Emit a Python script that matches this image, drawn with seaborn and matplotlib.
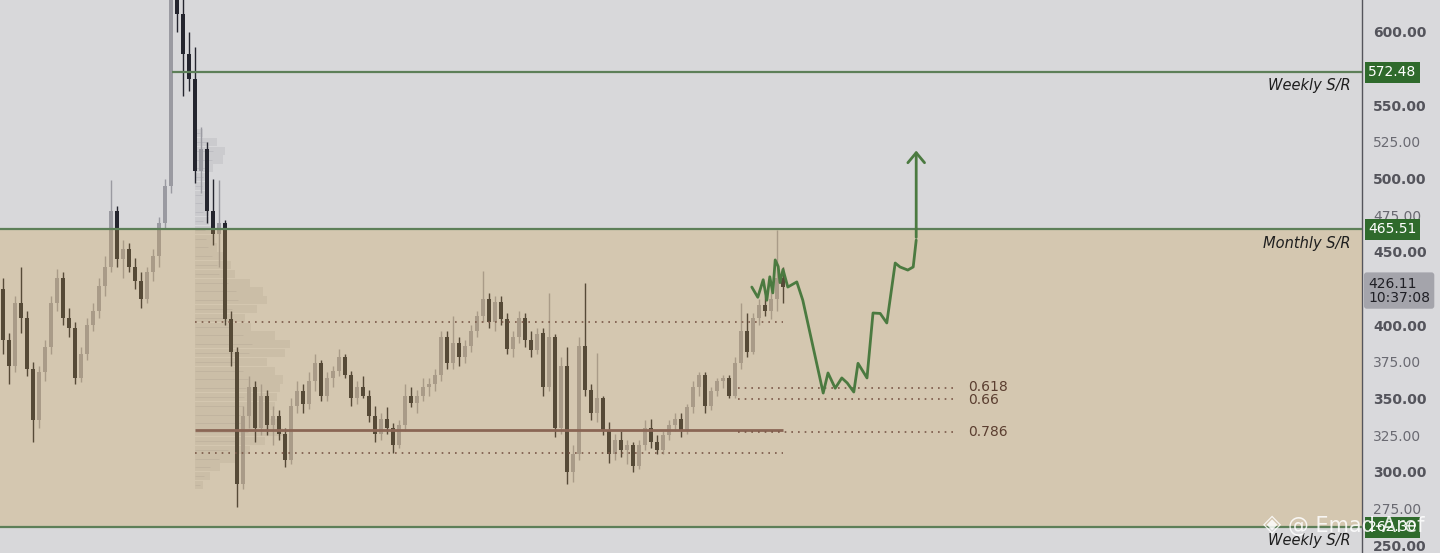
import numpy as np
import pandas as pd
import seaborn as sns
import matplotlib.pyplot as plt
import matplotlib.transforms as mtransforms

sns.set_theme(style="white")
plt.rcParams['font.family'] = ['DejaVu Sans']

# --- candles (one per bar) ---
opens = [425, 390, 372, 415, 405, 370, 335, 368, 385, 415, 432, 405, 398, 364, 380, 400, 410, 427, 440, 478,
         445, 452, 440, 430, 418, 436, 447, 470, 495, 622, 612, 585, 568, 505, 520, 478, 462, 470, 404, 382,
         292, 338, 358, 330, 352, 332, 338, 326, 308, 345, 355, 346, 362, 374, 352, 364, 369, 378, 366, 350,
         358, 352, 338, 326, 336, 330, 318, 332, 352, 347, 352, 358, 360, 366, 392, 374, 388, 378, 386, 396,
         406, 418, 402, 416, 404, 384, 392, 405, 390, 383, 395, 358, 392, 330, 372, 300, 312, 386, 356, 340,
         350, 328, 312, 322, 315, 318, 304, 318, 330, 320, 315, 325, 332, 336, 328, 344, 358, 366, 345, 355,
         362, 364, 352, 374, 396, 382, 405, 414, 410, 418, 432]
highs = [432, 395, 420, 440, 410, 375, 372, 390, 420, 438, 436, 412, 402, 385, 405, 415, 432, 447, 499, 481,
         458, 456, 446, 436, 440, 452, 474, 500, 630, 640, 625, 600, 590, 535, 525, 500, 499, 472, 410, 385,
         345, 365, 362, 360, 356, 345, 342, 330, 350, 362, 360, 368, 380, 376, 368, 372, 384, 380, 369, 362,
         365, 356, 345, 340, 344, 333, 335, 360, 358, 356, 364, 364, 370, 396, 396, 406, 392, 390, 400, 410,
         437, 422, 420, 420, 408, 396, 410, 408, 396, 398, 398, 422, 394, 378, 385, 318, 392, 429, 360, 381,
         352, 334, 326, 328, 322, 320, 322, 335, 336, 325, 328, 335, 340, 340, 346, 362, 368, 368, 358, 364,
         366, 366, 378, 415, 408, 408, 418, 420, 425, 465, 440]
lows = [380, 360, 368, 395, 365, 320, 330, 362, 380, 410, 400, 392, 360, 361, 376, 396, 405, 420, 436, 440,
        432, 436, 425, 412, 415, 430, 440, 466, 490, 600, 556, 560, 497, 490, 470, 455, 440, 400, 372, 276,
        288, 330, 320, 325, 325, 318, 322, 303, 305, 340, 340, 343, 355, 348, 348, 358, 365, 364, 345, 346,
        350, 334, 320, 322, 326, 313, 316, 328, 344, 340, 348, 352, 355, 362, 370, 370, 372, 374, 382, 392,
        402, 398, 396, 400, 380, 378, 388, 385, 378, 380, 352, 355, 324, 326, 292, 293, 308, 352, 335, 334,
        325, 306, 308, 310, 305, 300, 302, 315, 316, 312, 312, 322, 328, 324, 326, 340, 352, 340, 342, 352,
        357, 350, 350, 370, 378, 380, 400, 406, 404, 410, 415]
closes = [390, 372, 415, 405, 370, 335, 368, 385, 415, 432, 405, 398, 364, 380, 400, 410, 427, 440, 478, 445,
          452, 440, 430, 418, 436, 447, 470, 495, 622, 612, 585, 568, 505, 520, 478, 462, 470, 404, 382, 292,
          338, 358, 330, 352, 332, 338, 326, 308, 345, 355, 346, 362, 374, 352, 364, 369, 378, 366, 350, 358,
          352, 338, 326, 336, 330, 318, 332, 352, 347, 352, 358, 360, 366, 392, 374, 388, 378, 386, 396, 406,
          418, 402, 416, 404, 384, 392, 405, 390, 383, 394, 358, 392, 330, 372, 300, 312, 386, 356, 340, 350,
          328, 312, 322, 315, 318, 304, 318, 330, 320, 315, 325, 332, 336, 328, 344, 358, 366, 345, 355, 362,
          364, 352, 374, 396, 382, 405, 414, 410, 418, 432, 426.11]

# --- volume profile ---
vp_price = [531, 525, 519, 513, 507, 501, 495, 489, 483, 477, 471, 465, 459, 453, 447, 441, 435, 429, 423, 417,
            411, 405, 399, 393, 387, 381, 375, 369, 363, 357, 351, 345, 339, 333, 327, 321, 315, 309, 303, 297, 291]
vp_volume = [8, 22, 30, 28, 18, 14, 12, 12, 12, 14, 14, 16, 18, 22, 28, 36, 40, 55, 68, 72,
             62, 50, 56, 80, 95, 90, 72, 80, 88, 85, 82, 80, 75, 82, 88, 70, 55, 40, 25, 15, 8]

# --- projected path (bar index, price) ---
path_x = [124.8, 125.8, 126.7, 127.3, 127.8, 128.3, 128.7, 129.2, 129.5, 130.0, 130.8, 132.3, 133.3,
          136.7, 137.5, 138.7, 139.8, 140.7, 141.8, 142.5, 144.0, 145.0, 146.2, 147.3, 148.7, 149.5,
          150.8, 151.7, 152.2]
path_y = [426, 419, 431, 417, 433, 422, 444.5, 440, 429, 438, 426, 429.5, 417,
          353.7, 367.4, 357, 364, 360.6, 354.4, 374, 364, 408.3, 408, 401.5, 442.4, 439.7,
          437.6, 439.7, 458]
arrow_top = 521

weekly_top = 572.48
monthly = 465.51
weekly_bottom = 262.30
last_price = 426.11
last_time = "10:37:08"
va_high = 402.2
va_low = 312.8
poc = 328.5
fib_labels = ["0.618", "0.66", "0.786"]
fib_prices = [357.2, 349.7, 327.2]
yticks = [250, 275, 300, 325, 350, 375, 400, 450, 475, 500, 525, 550, 600]

fig = plt.figure(figsize=(14.4, 5.53), dpi=100)
fig.patch.set_facecolor('#d9d9dc')
ax = fig.add_axes([0, 0, 1362 / 1440, 1])
ax.set_facecolor('#d8d8da')
ax.set_xlim(-0.5, 226.5)
ax.set_ylim(244.6, 621.8)

df = pd.DataFrame({'o': opens, 'h': highs, 'l': lows, 'c': closes})
df['i'] = np.arange(len(df))
up = df['c'] >= df['o']
up_col, dn_col = '#9a9aa1', '#24252e'
cols = np.where(up, up_col, dn_col)
ax.vlines(df['i'], df['l'], df['h'], colors=cols, lw=1.0, zorder=2)
ax.bar(df['i'], (df['c'] - df['o']).abs().clip(lower=0.8), bottom=df[['o', 'c']].min(axis=1),
       width=0.62, color=cols, linewidth=0, zorder=2)

# volume profile
ax.barh(vp_price, np.array(vp_volume) / 6.0, left=32.0, height=5.6, color='#b4b4ba', alpha=0.35,
        edgecolor='none', zorder=1.5)
ax.hlines(vp_price, 32.0, 32.0 + np.array(vp_volume) / 6.0 * 0.6, color='#9c9ca4', lw=0.4,
          alpha=0.5, zorder=1.6)

# tan zone overlay
ax.axhspan(weekly_bottom, monthly, color=(204 / 255, 160 / 255, 79 / 255), alpha=0.3, lw=0, zorder=3)

# support / resistance lines
green = '#5d7f58'
ax.hlines(weekly_top, 28.2, 226.5, color=green, lw=1.6, zorder=4)
ax.axhline(monthly, color=green, lw=1.6, zorder=4)
ax.axhline(weekly_bottom, color=green, lw=1.6, zorder=4)

brown = '#7a5848'
ax.hlines([va_high, va_low], 32, 130, color=brown, lw=1.2, linestyles=(0, (1, 3)), zorder=4)
ax.hlines(poc, 32, 130, color='#8a6655', lw=2.0, zorder=4)
ax.hlines(fib_prices, 122.5, 159.2, color=brown, lw=1.2, linestyles=(0, (1, 3)), zorder=4)
for lab, p, dy in zip(fib_labels, fib_prices, [0.6, -0.6, 0]):
    ax.text(160.8, p + dy, lab, color='#5b3e30', fontsize=10, va='center', ha='left', zorder=5)

# projected path
path = pd.DataFrame({'x': path_x, 'y': path_y})
sns.lineplot(data=path, x='x', y='y', sort=False, color='#4b7a40', lw=2.0, ax=ax, zorder=6)
ax.annotate('', xy=(path_x[-1], arrow_top), xytext=(path_x[-1], path_y[-1]),
            arrowprops=dict(arrowstyle='->,head_length=0.6,head_width=0.5', color='#4b7a40', lw=2.0),
            zorder=6)
ax.set_xlabel('')
ax.set_ylabel('')

# labels on chart
for txt, y in [('Weekly S/R', 563.3), ('Monthly S/R', 456.0), ('Weekly S/R', 252.8)]:
    ax.text(224.6, y, txt, style='italic', fontsize=10.5, color='#1e1e1e', ha='right', va='center', zorder=7)

# right price axis
ax.yaxis.tick_right()
ax.set_yticks(yticks)
ax.set_yticklabels([f'{t:.2f}' for t in yticks])
ax.tick_params(axis='y', length=0, pad=8, labelsize=10, labelcolor='#54545c')
for t, lab in zip(yticks, ax.get_yticklabels()):
    if t % 50 == 0:
        lab.set_fontweight('bold')
    else:
        lab.set_color('#6a6a72')
ax.set_xticks([])
for s in ['left', 'top', 'bottom']:
    ax.spines[s].set_visible(False)
ax.spines['right'].set_color('#55555c')
ax.spines['right'].set_linewidth(1.0)
ax.grid(False)

trans = mtransforms.blended_transform_factory(ax.transAxes, ax.transData)
for val in [weekly_top, monthly, weekly_bottom]:
    ax.text(1.0045, val, f'{val:.2f}', transform=trans, color='white', fontsize=10,
            va='center', ha='left', clip_on=False, zorder=10,
            bbox=dict(boxstyle='square,pad=0.25', fc='#2f6a2c', ec='none'))
ax.text(1.0045, last_price - 2.5, f'{last_price:.2f}\n{last_time}', transform=trans, color='#1f1f25',
        fontsize=10, va='center', ha='left', clip_on=False, zorder=10, linespacing=1.0,
        bbox=dict(boxstyle='round,pad=0.3,rounding_size=0.2', fc='#a4a4ab', ec='none'))

# watermark
fig.text(1272 / 1440, 1 - 524 / 553, '◈', color='white', alpha=0.85, fontsize=17, ha='center', va='center')
fig.text(1288 / 1440, 1 - 526 / 553, '@ Emad-Aref', color='white', alpha=0.85, fontsize=15,
         ha='left', va='center')

fig.savefig('out.png', dpi=100, facecolor=fig.get_facecolor())
